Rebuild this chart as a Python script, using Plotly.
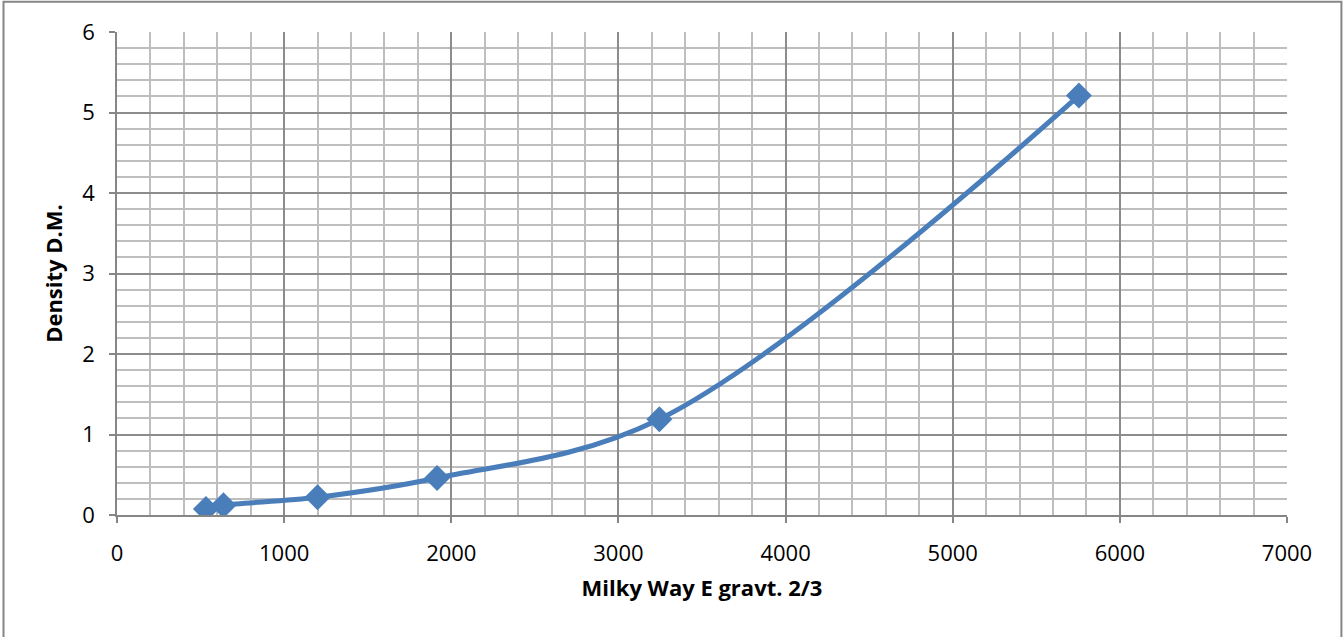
import plotly.graph_objects as go

# valores
energia = [532, 637, 1200, 1915, 3245, 5755]
densidad = [0.075, 0.12, 0.22, 0.46, 1.19, 5.21]

AZUL = '#4A7EBB'
FUENTE = 'Open Sans, Lato, sans-serif'

fig = go.Figure()
fig.add_trace(go.Scatter(
    x=energia, y=densidad,
    mode='lines+markers',
    line=dict(color=AZUL, width=5, shape='spline', smoothing=1),
    marker=dict(symbol='diamond', size=20, color=AZUL),
    showlegend=False,
))

ejes = dict(
    showline=True, linecolor='#868686', linewidth=1.5,
    showgrid=True, gridcolor='#8C8C8C', gridwidth=1.5,
    ticks='outside', ticklen=6, tickcolor='#868686', tickwidth=1.5,
    zeroline=False,
    tickfont=dict(family=FUENTE, size=22, color='black'),
)

fig.update_xaxes(
    range=[0, 7000], dtick=1000, tick0=0,
    minor=dict(dtick=200, showgrid=True, gridcolor='#BEBEBE', gridwidth=1.5),
    ticklabelstandoff=12,
    title=dict(text='<b>Milky Way E gravt. 2/3</b>', font=dict(family=FUENTE, size=22, color='black'), standoff=14),
    **ejes
)
fig.update_yaxes(
    range=[0, 6], dtick=1, tick0=0,
    minor=dict(dtick=0.2, showgrid=True, gridcolor='#BEBEBE', gridwidth=1.5),
    ticklabelstandoff=10,
    title=dict(text='<b>Density D.M.</b>', font=dict(family=FUENTE, size=22, color='black'), standoff=14),
    **ejes
)

# marco exterior del grafico
fig.add_shape(type='rect', xref='paper', yref='paper',
              x0=-0.097, x1=1.0465, y0=-0.30, y1=1.0625,
              line=dict(color='#868686', width=2))

fig.update_layout(
    width=1344, height=637,
    margin=dict(l=117, r=57, t=32, b=122),
    plot_bgcolor='white', paper_bgcolor='white',
)

# quitar el margen del body para que la figura quede en (0, 0)
fig.write_html('out.html', config={'displayModeBar': False},
               post_script="document.body.style.margin='0';")
